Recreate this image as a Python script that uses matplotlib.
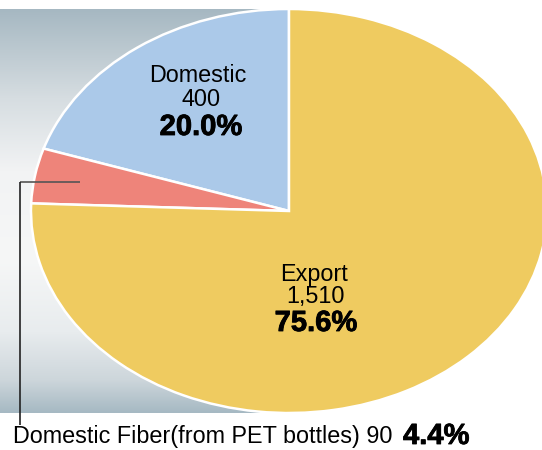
import matplotlib
matplotlib.use("Agg")
import matplotlib.pyplot as plt
import matplotlib.patheffects as pe
import numpy as np
from matplotlib.colors import LinearSegmentedColormap

# ---- data ----
categories = ["Domestic", "Domestic Fiber(from PET bottles)", "Export"]
values = [400, 90, 1510]
value_labels = ["400", "90", "1,510"]
pct_values = [20.0, 4.4, 75.6]
pct_labels = ["20.0%", "4.4%", "75.6%"]
colors = ["#abc9e9", "#ee847a", "#efcb60"]

W, H = 542, 450
fig = plt.figure(figsize=(W / 100, H / 100), dpi=100)
fig.patch.set_facecolor("white")

# background axes in pixel coordinates
ax_bg = fig.add_axes([0, 0, 1, 1])
ax_bg.set_xlim(0, W)
ax_bg.set_ylim(H, 0)
ax_bg.axis("off")

# gradient panel behind left half of the pie
stops = [
    (0.00, (166, 184, 194)),
    (0.22, (214, 221, 225)),
    (0.40, (242, 243, 244)),
    (0.62, (246, 247, 247)),
    (0.80, (232, 236, 238)),
    (0.92, (205, 214, 219)),
    (1.00, (166, 185, 195)),
]
cmap = LinearSegmentedColormap.from_list(
    "bg", [(p, tuple(c / 255 for c in rgb)) for p, rgb in stops])
grad = np.linspace(0, 1, 256).reshape(-1, 1)
ax_bg.imshow(grad, cmap=cmap, aspect="auto", extent=(0, 290, 413, 9),
             interpolation="bilinear", zorder=0)

# pie axes stretched into an ellipse
cx, cy, rx, ry = 289, 211, 258, 202
ax_pie = fig.add_axes([(cx - rx) / W, (H - cy - ry) / H, 2 * rx / W, 2 * ry / H])
ax_pie.patch.set_alpha(0)
ax_pie.pie(pct_values, colors=colors, startangle=90, counterclock=True,
           radius=1, wedgeprops=dict(edgecolor="white", linewidth=1.8))
ax_pie.set_aspect("auto")
ax_pie.set_xlim(-1, 1)
ax_pie.set_ylim(-1, 1)
ax_pie.axis("off")

# overlay for text and leader line
ax_top = fig.add_axes([0, 0, 1, 1])
ax_top.set_xlim(0, W)
ax_top.set_ylim(H, 0)
ax_top.axis("off")
ax_top.patch.set_alpha(0)

font = "Liberation Sans"
reg = 16.8
big = 21
heavy = [pe.withStroke(linewidth=0.6, foreground="black")]

# Domestic
ax_top.text(198, 76, categories[0], ha="center", va="center", fontsize=reg, family=font)
ax_top.text(201, 99, value_labels[0], ha="center", va="center", fontsize=reg, family=font)
ax_top.text(201, 127, pct_labels[0], ha="center", va="center", fontsize=big,
            family=font, fontweight="bold", path_effects=heavy)

# Export
ax_top.text(314, 274, categories[2], ha="center", va="center", fontsize=reg, family=font)
ax_top.text(315, 297, value_labels[2], ha="center", va="center", fontsize=reg, family=font)
ax_top.text(316, 323, pct_labels[2], ha="center", va="center", fontsize=big,
            family=font, fontweight="bold", path_effects=heavy)

# leader line for the fiber slice
ax_top.plot([80, 20], [182, 182], color="#555555", lw=1.2, solid_capstyle="butt")
ax_top.plot([20, 20], [182, 425], color="#222222", lw=1.2, solid_capstyle="butt")

ax_top.text(13, 437, categories[1] + " " + value_labels[1], ha="left", va="center",
            fontsize=reg, family=font)
ax_top.text(403, 436, pct_labels[1], ha="left", va="center", fontsize=big,
            family=font, fontweight="bold", path_effects=heavy)

fig.savefig("out.png", dpi=100)
